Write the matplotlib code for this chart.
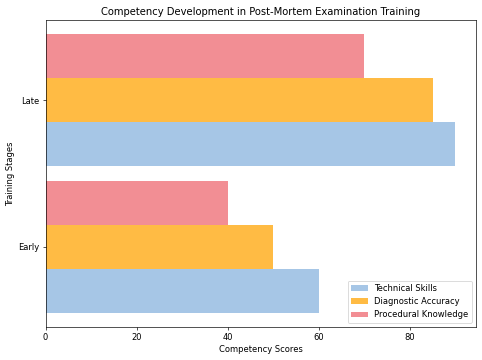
import numpy as np
import matplotlib
matplotlib.use("Agg")
import matplotlib.pyplot as plt

# Données
stages = ["Early", "Late"]
technical_skills = [60, 90]
diagnostic_accuracy = [50, 85]
procedural_knowledge = [40, 70]

series = [
    ("Technical Skills", technical_skills, "#a6c6e6"),
    ("Diagnostic Accuracy", diagnostic_accuracy, "#ffbb44"),
    ("Procedural Knowledge", procedural_knowledge, "#f28e94"),
]

# Figure 8.03 x 6 pouces à 60 dpi -> 482 x 360 pixels
fig = plt.figure(figsize=(482 / 60, 6), dpi=60)
ax = fig.add_axes([0.0944, 0.0917, 0.893, 0.8528])

y = np.arange(len(stages))
h = 0.3
for i, (label, vals, color) in enumerate(series):
    ax.barh(y + (i - 1) * h, vals, height=h, color=color, label=label)

ax.set_yticks(y)
ax.set_yticklabels(stages)
ax.set_xlabel("Competency Scores")
ax.set_ylabel("Training Stages")
ax.set_title("Competency Development in Post-Mortem Examination Training")
ax.legend(loc="lower right")

fig.savefig("out.png", dpi=60)
